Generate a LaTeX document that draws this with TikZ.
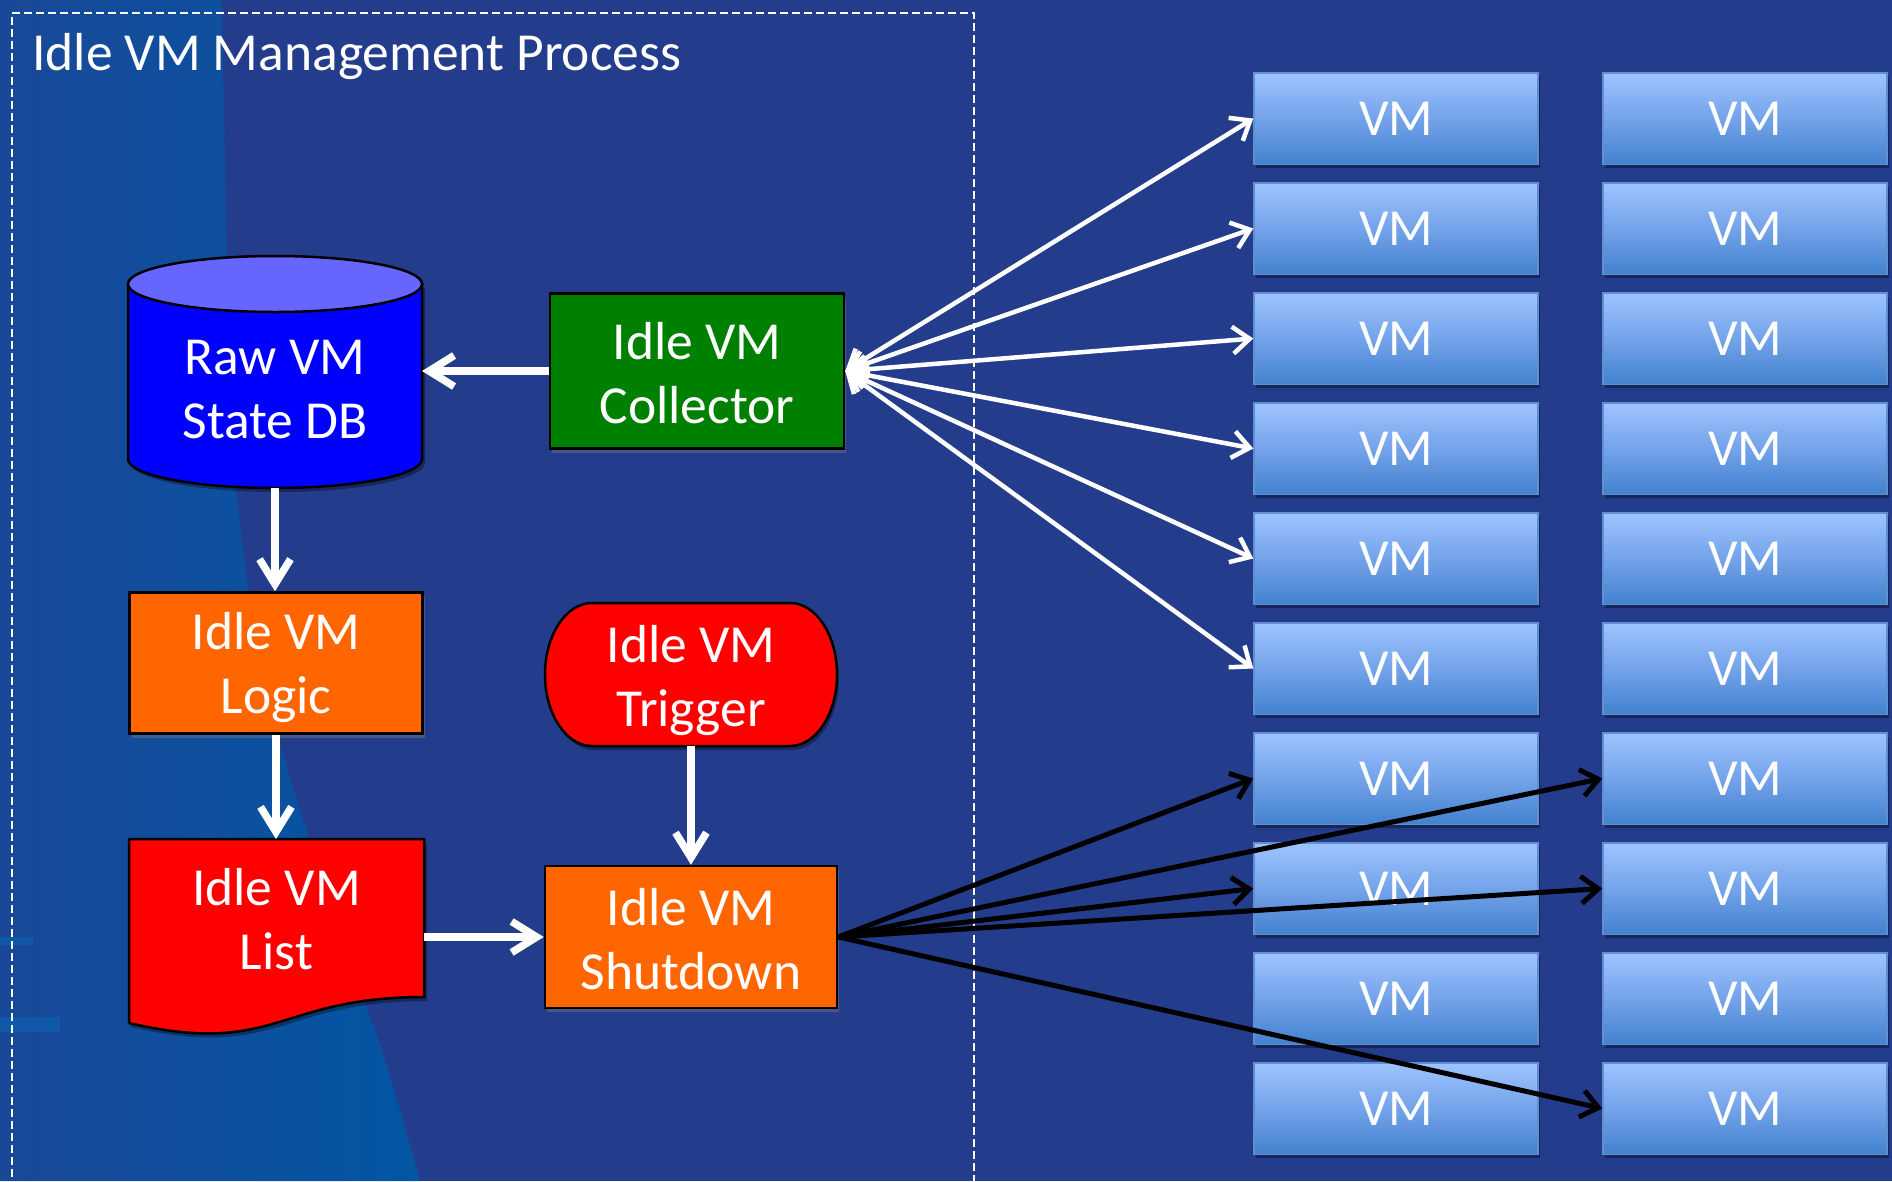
\documentclass[tikz,border=0pt]{standalone}
\usepackage{fontspec}
\setmainfont{Carlito}
\usetikzlibrary{arrows.meta,shadows}
\definecolor{bg}{RGB}{36,60,140}
\definecolor{bandL}{RGB}{26,72,152}
\definecolor{bandR}{RGB}{2,86,164}
\definecolor{stripe}{RGB}{16,88,168}
\definecolor{dbside}{RGB}{0,0,255}
\definecolor{dbtop}{RGB}{102,102,255}
\definecolor{collgreen}{RGB}{0,128,0}
\definecolor{orng}{RGB}{255,102,0}
\definecolor{redd}{RGB}{255,0,0}
\definecolor{vmtop}{RGB}{157,196,255}
\definecolor{vmmid}{RGB}{116,163,234}
\definecolor{vmbot}{RGB}{66,130,206}
\definecolor{vmedge}{RGB}{98,143,208}
\tikzset{
  txt/.style={text=white, font=\fontsize{53.5pt}{64pt}\selectfont, align=center},
  vmtxt/.style={text=white, font=\fontsize{52pt}{63pt}\selectfont, align=center},
  flowbox/.style={draw=black, line width=2.5pt, txt, inner sep=0pt,
    drop shadow={opacity=0.4, shadow xshift=2pt, shadow yshift=-4pt}},
  anchorbox/.style={inner sep=0pt, outer sep=0pt},
  vmbox/.style={draw=vmedge, line width=1.5pt, top color=vmtop, bottom color=vmbot,
    middle color=vmmid, minimum width=284pt, minimum height=91.5pt, inner sep=0pt, vmtxt,
    general shadow={fill=black, opacity=0.35, shadow xshift=2pt, shadow yshift=-4pt}},
  bigarrow/.style={white, line width=7.5pt, -{Straight Barb[length=25pt,width=31pt]}},
  collarrow/.style={white, line width=4.5pt,
    {Straight Barb[length=17pt,width=27pt]}-{Straight Barb[length=17pt,width=27pt]}},
  shutarrow/.style={black, line width=5pt, -{Straight Barb[length=17pt,width=27pt]}},
  framebox/.style={draw=white, line width=1.8pt, dash pattern=on 8pt off 4pt, anchorbox}
}
\begin{document}
\begin{tikzpicture}[x=1pt,y=-1pt]
\useasboundingbox (0,0) rectangle (1892,1181);
\fill[bg] (0,0) rectangle (1892,1181);
% background band
\path[left color=bandL, right color=bandR]
  plot[smooth] coordinates {(222,0) (227,256) (233,452) (263,678) (330,904) (383,1054) (420,1181)}
  -- (0,1181) -- (0,0) -- cycle;
\fill[stripe] (0,937) rectangle (33,945);
\fill[stripe] (0,1017) rectangle (60,1032);

% frame and title
\node[framebox, minimum width=962pt, minimum height=1180pt] (frame) at (493,603) {};
\node[txt, anchor=base west, inner sep=0pt] (title) at (32,70) {Idle VM Management Process};

% database cylinder
\node[anchorbox, minimum width=294pt, minimum height=232pt] (db) at (275,372) {};
\fill[black, opacity=0.35] (131,288) -- (131,463) arc[start angle=180, end angle=360, x radius=147pt, y radius=29pt] -- (425,288) -- cycle;
\draw[fill=dbside, line width=2.5pt] (128,284) -- (128,459)
  arc[start angle=180, end angle=360, x radius=147pt, y radius=29pt] -- (422,284) -- cycle;
\draw[fill=dbtop, line width=2.5pt] (275,284) ellipse[x radius=147pt, y radius=28pt];
\node[txt] (dbtext) at (275,390) {Raw VM\\State DB};

% collector
\node[flowbox, fill=collgreen, minimum width=294pt, minimum height=155pt] (coll) at (697,371) {};
\node[txt] (colltext) at (697,373) {Idle VM\\Collector};

% logic
\node[flowbox, fill=orng, minimum width=293pt, minimum height=141pt] (logic) at (276,663) {};
\node[txt] (logictext) at (276,668) {Idle VM\\Logic};

% list (document shape)
\node[anchorbox, minimum width=295pt, minimum height=197pt] (list) at (276.5,937.5) {};
\fill[black, opacity=0.35] (131,843) -- (427,843) -- (427,1001) .. controls (279,1001) and (279,1061) .. (131,1027) -- cycle;
\draw[fill=redd, line width=2.5pt] (129,839) -- (424,839) -- (424,997)
  .. controls (276.5,997) and (276.5,1057) .. (129,1023) -- cycle;
\node[txt] (listtext) at (276.5,919.5) {Idle VM\\List};

% trigger (terminator)
\fill[black, opacity=0.35] (594,607) -- (792,607) arc[start angle=90, end angle=-90, x radius=47pt, y radius=71.5pt]
  -- (594,750) arc[start angle=270, end angle=90, x radius=47pt, y radius=71.5pt] -- cycle;
\draw[fill=redd, line width=2.5pt] (592,603) -- (790,603)
  arc[start angle=90, end angle=-90, x radius=47pt, y radius=71.5pt]
  -- (592,746) arc[start angle=270, end angle=90, x radius=47pt, y radius=71.5pt] -- cycle;
\node[anchorbox, minimum width=292pt, minimum height=143pt] (trig) at (691,674.5) {};
\node[txt] (trigtext) at (691,681) {Idle VM\\Trigger};

% shutdown
\node[flowbox, fill=orng, minimum width=292pt, minimum height=142pt] (shut) at (691,937) {};
\node[txt] (shuttext) at (691,939) {Idle VM\\Shutdown};

% VM grid
\foreach \r in {1,...,10} {
  \foreach \c/\x in {1/1396,2/1745} {
    \node[vmbox] (vm\r-\c) at (\x,{118.5+110*(\r-1)}) {VM};
  }
}

% flow arrows
\draw[bigarrow] (coll.west) -- (coll.west -| db.east);
\draw[bigarrow] (db.south) -- (db.south |- logic.north);
\draw[bigarrow] (logic.south) -- (logic.south |- list.north);
\draw[bigarrow] (trig.south) -- (shut.north);
\draw[bigarrow] (list.east |- shut.west) -- (shut.west);

% collector <-> VMs
\foreach \r in {1,...,6} {
  \draw[collarrow] (coll.east) -- (vm\r-1.west);
}
% shutdown -> VMs
\foreach \t in {7-1,7-2,8-1,8-2,10-2} {
  \draw[shutarrow] (shut.east) -- (vm\t.west);
}
\end{tikzpicture}
\end{document}
